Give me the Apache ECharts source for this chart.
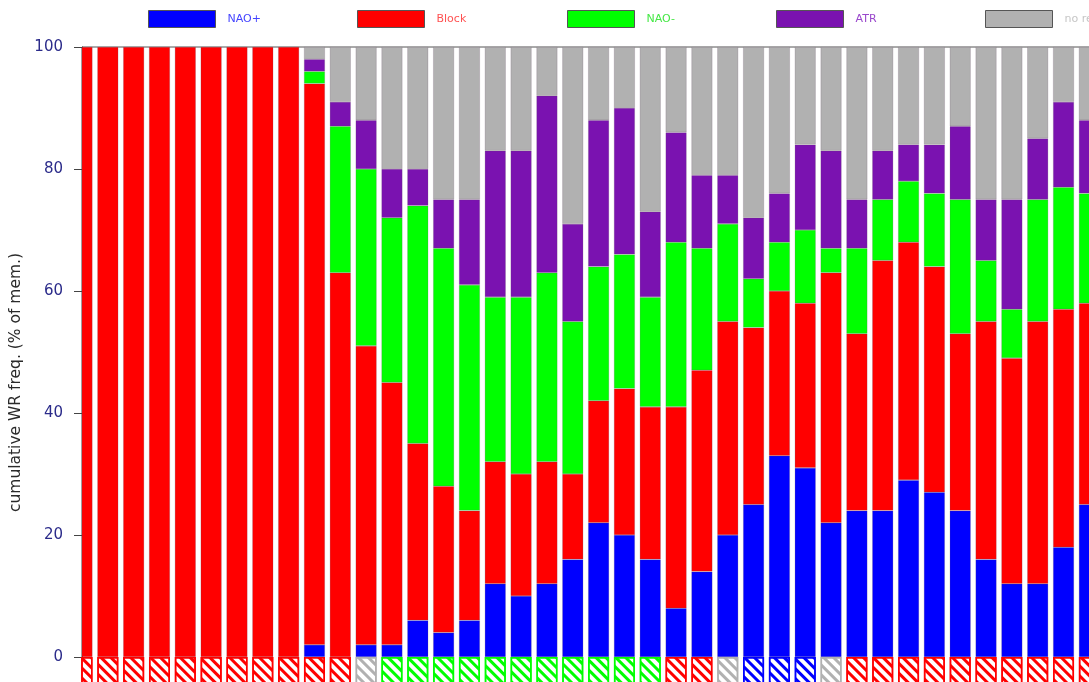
<!DOCTYPE html>
<html>
<head>
<meta charset="utf-8">
<script src="https://cdn.jsdelivr.net/npm/echarts@6/dist/echarts.min.js"></script>
<style>
html,body{margin:0;padding:0;background:#ffffff;}
#chart{width:1089px;height:682px;}
</style>
</head>
<body>
<div id="chart"></div>
<script>
// ---------- data ----------
const days = ['1','2','3','4','5','6','7','8','9','10','11','12','13','14','15','16','17','18','19','20',
              '21','22','23','24','25','26','27','28','29','30','31','32','33','34','35','36','37','38','39','40'];
const regimeNames = ['NAO+', 'Block', 'NAO-', 'ATR', 'no regime'];
const naoPlus  = [0,0,0,0,0,0,0,0,0, 2, 0, 2, 2, 6, 4, 6,12,10,12,16,22,20,16, 8,14,20,25,33,31,22,24,24,29,27,24,16,12,12,18,25];
const block    = [100,100,100,100,100,100,100,100,100,92,63,49,43,29,24,18,20,20,20,14,20,24,25,33,33,35,29,27,27,41,29,41,39,37,29,39,37,43,39,33];
const naoMinus = [0,0,0,0,0,0,0,0,0, 2,24,29,27,39,39,37,27,29,31,25,22,22,18,27,20,16, 8, 8,12, 4,14,10,10,12,22,10, 8,20,20,18];
const atr      = [0,0,0,0,0,0,0,0,0, 2, 4, 8, 8, 6, 8,14,24,24,29,16,24,24,14,18,12, 8,10, 8,14,16, 8, 8, 6, 8,12,10,18,10,14,12];
const noRegime = [0,0,0,0,0,0,0,0,0, 2, 9,12,20,20,25,25,17,17, 8,29,12,10,27,14,21,21,28,24,16,17,25,17,16,16,13,25,25,15, 9,12];
// dominant regime shown in the hatched row under the bars
const dominant = ['Block','Block','Block','Block','Block','Block','Block','Block','Block','Block','Block',
                  'no regime','NAO-','NAO-','NAO-','NAO-','NAO-','NAO-','NAO-','NAO-','NAO-','NAO-','NAO-',
                  'Block','Block','no regime','NAO+','NAO+','NAO+','no regime',
                  'Block','Block','Block','Block','Block','Block','Block','Block','Block','Block'];
const cellDepth = -10;
const yTicks = [0, 20, 40, 60, 80, 100];

// ---------- styles ----------
const colors = {'NAO+':'#0000ff','Block':'#ff0000','NAO-':'#00ff00','ATR':'#7a12b0','no regime':'#b1b1b1'};
const textColors = {'NAO+':'#4444ff','Block':'#ff5252','NAO-':'#44e844','ATR':'#9a48cc','no regime':'#c6c6c6'};
const values = {'NAO+':naoPlus,'Block':block,'NAO-':naoMinus,'ATR':atr,'no regime':noRegime};
const legendLeft = [148, 357, 567, 776, 985];
const FONT = 'DejaVu Sans';

const series = regimeNames.map(n => ({
  name: n,
  type: 'bar',
  stack: 'wr',
  barWidth: 21,
  barGap: '23%',
  data: values[n].map(v => (v === 0 ? '-' : v)),
  itemStyle: {color: colors[n], borderColor: 'rgba(95,70,95,0.35)', borderWidth: 0.6},
  emphasis: {disabled: true}
}));

series.push({
  name: 'dominant regime',
  type: 'bar',
  stack: 'wr',
  barWidth: 21,
  barGap: '23%',
  data: dominant.map(r => ({
    value: cellDepth,
    itemStyle: {
      color: '#ffffff',
      borderColor: colors[r],
      borderWidth: 1.5,
      decal: {
        symbol: 'rect',
        symbolSize: 1,
        color: colors[r],
        dashArrayX: [1, 0],
        dashArrayY: [2.5, 3.5],
        rotation: Math.PI / 4
      }
    }
  })),
  emphasis: {disabled: true}
});

// empty companion column: shifts the plotted column to the left edge of each band
series.push({
  name: 'spacer',
  type: 'bar',
  stack: 'spacer',
  barWidth: 21,
  barGap: '23%',
  data: [],
  silent: true
});

const legends = regimeNames.map((n, i) => ({
  data: [n],
  left: legendLeft[i],
  top: 10,
  padding: 0,
  icon: 'rect',
  itemWidth: 67,
  itemHeight: 17,
  selectedMode: false,
  itemStyle: {borderColor: '#555555', borderWidth: 1},
  textStyle: {color: textColors[n], fontSize: 11, fontFamily: FONT, padding: [0, 0, 0, 7]}
}));

const chart = echarts.init(document.getElementById('chart'), null, {renderer: 'canvas'});
chart.setOption({
  animation: false,
  backgroundColor: '#ffffff',
  legend: legends,
  grid: {left: 82, right: -26.2, top: 47, bottom: -36, show: true, borderColor: '#555555', borderWidth: 1,
         containLabel: false, outerBoundsMode: 'none'},
  xAxis: {
    type: 'category',
    data: days,
    boundaryGap: true,
    axisLine: {show: false},
    axisTick: {show: false},
    axisLabel: {show: false},
    splitLine: {show: false}
  },
  yAxis: {
    type: 'value',
    min: -10,
    max: 100,
    axisLine: {show: true, lineStyle: {color: '#444444', width: 1}},
    axisTick: {show: true, length: 8, lineStyle: {color: '#444444', width: 1}, customValues: yTicks},
    axisLabel: {color: '#2b2b8a', fontSize: 15, fontFamily: FONT, margin: 19, customValues: yTicks},
    splitLine: {show: false},
    name: 'cumulative WR freq. (% of mem.)',
    nameLocation: 'middle',
    nameGap: 47,
    nameTextStyle: {color: '#2a2a2a', fontSize: 15.5, fontFamily: FONT}
  },
  series: series
});
</script>
</body>
</html>
